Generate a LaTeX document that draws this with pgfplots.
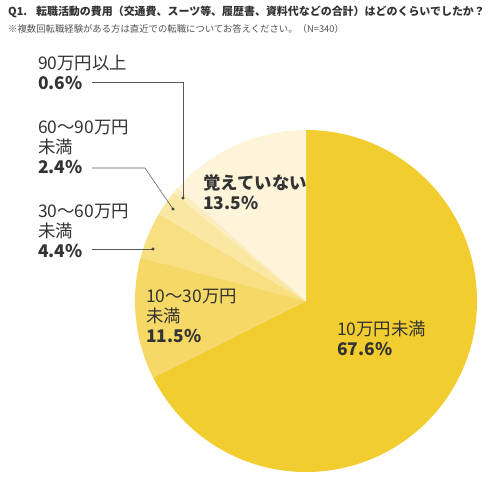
\documentclass[border=0pt]{standalone}
\usepackage{fontspec}
\usepackage{pgfplots}
\usepackage{pgfplotstable}
\pgfplotsset{compat=1.18}
\newfontfamily\cjk{Noto Sans CJK JP}
\definecolor{s1}{HTML}{F2CD2F}
\definecolor{s2}{HTML}{F5D866}
\definecolor{s3}{HTML}{F7DF82}
\definecolor{s4}{HTML}{F9E7A2}
\definecolor{s5}{HTML}{FBEDBD}
\definecolor{s6}{HTML}{FDF4D9}
\definecolor{txt}{HTML}{333333}

% share of answers, clockwise from 12 o'clock
\pgfplotstableread{
value col
67.6  s1
11.5  s2
4.4   s3
2.4   s4
0.6   s5
13.5  s6
}\piedata

\begin{document}
\begin{tikzpicture}
\begin{axis}[x=1bp, y=1bp, xmin=0, xmax=500, ymin=0, ymax=477, y dir=reverse,
  hide axis, clip=false]
\path (rel axis cs:0,0) rectangle (rel axis cs:1,1);

\def\cum{90}
\pgfplotsforeachungrouped \i in {0,...,5}{%
  \pgfplotstablegetelem{\i}{value}\of\piedata \let\v\pgfplotsretval
  \pgfplotstablegetelem{\i}{col}\of\piedata \let\c\pgfplotsretval
  \pgfmathsetmacro\endang{\cum-3.6*\v}%
  \edef\slice{\noexpand\fill[\c] (axis cs:306,301) -- ++(\cum:171bp)
    arc[start angle=\cum, end angle=\endang, radius=171bp] -- cycle;}%
  \slice
  \global\let\cum\endang
}

% leader lines
\draw[gray!70!black, line width=0.55pt] (axis cs:92,82) -- (axis cs:183,82) -- (axis cs:183,198);
\draw[gray!70!black, line width=0.55pt] (axis cs:92,168) -- (axis cs:145,168) -- (axis cs:173,209);
\draw[gray!70!black, line width=0.55pt] (axis cs:92,249) -- (axis cs:153,249);
\addplot[only marks, mark=*, mark size=1.3pt, color=gray!50!black]
  coordinates {(183,198) (173,209) (153,249)};

% titles
\node[anchor=west, inner sep=0, text=txt, font=\cjk\bfseries\fontsize{11}{12}\selectfont]
  at (axis cs:8,12) {Q1.\hspace{0.8em}転職活動の費用（交通費、スーツ等、履歴書、資料代などの合計）はどのくらいでしたか？};
\node[anchor=west, inner sep=0, text=txt!85, font=\cjk\fontsize{9.4}{10}\selectfont]
  at (axis cs:8,29) {※複数回転職経験がある方は直近での転職についてお答えください。（N=340）};

% slice labels
\tikzset{lab/.style={anchor=north west, align=left, inner sep=0, text=txt,
  font=\cjk\fontsize{17.5}{20}\selectfont}}
\node[lab] at (axis cs:38,55) {90万円以上\\\textbf{0.6\%}};
\node[lab] at (axis cs:38,120) {60～90万円\\未満\\\textbf{2.4\%}};
\node[lab] at (axis cs:38,204) {30～60万円\\未満\\\textbf{4.4\%}};
\node[lab] at (axis cs:146,289) {10～30万円\\未満\\\textbf{11.5\%}};
\node[lab] at (axis cs:203,174) {\textbf{覚えていない}\\\textbf{13.5\%}};
\node[lab] at (axis cs:337,321) {10万円未満\\\textbf{67.6\%}};
\end{axis}
\end{tikzpicture}
\end{document}
